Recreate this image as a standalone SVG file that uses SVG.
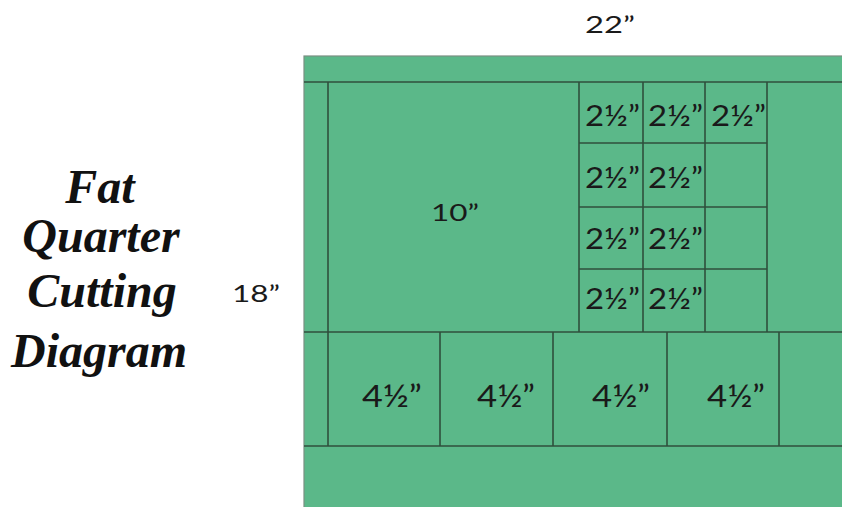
<svg xmlns="http://www.w3.org/2000/svg" width="842" height="507" viewBox="0 0 842 507">
<style>
.cut{stroke:#2f4f3c;stroke-width:1.6;fill:none}
.lbl{font-family:Lato,"Open Sans",sans-serif;fill:#1a1a1a}
.sm{font-size:28px}
.md{font-size:30px}
.dim{font-size:23px}
.title{font-family:"Liberation Serif",serif;font-style:italic;font-weight:bold;font-size:48px;fill:#111;text-anchor:middle}
</style>
<rect width="842" height="507" fill="#ffffff"/>
<g id="title">
<text class="title" x="100" y="203">Fat</text>
<text class="title" x="101" y="252">Quarter</text>
<text class="title" x="102" y="307">Cutting</text>
<text class="title" x="99" y="367">Diagram</text>
</g>
<g id="dim-22"><text class="lbl dim" x="585" y="33" textLength="50" lengthAdjust="spacingAndGlyphs">22”</text></g>
<g id="dim-18"><text class="lbl dim" x="232" y="302" textLength="48" lengthAdjust="spacingAndGlyphs">18”</text></g>
<g id="fabric"><rect x="304" y="56" width="560" height="470" fill="#5bb889" stroke="#7a8f82" stroke-width="1.2"/></g>
<g id="cuts">
<line class="cut" x1="304" y1="82" x2="842" y2="82"/>
<line class="cut" x1="304" y1="332" x2="842" y2="332"/>
<line class="cut" x1="304" y1="446" x2="842" y2="446"/>
<line class="cut" x1="328" y1="82" x2="328" y2="446"/>
<line class="cut" x1="579" y1="82" x2="579" y2="332"/>
<line class="cut" x1="643" y1="82" x2="643" y2="332"/>
<line class="cut" x1="705" y1="82" x2="705" y2="332"/>
<line class="cut" x1="767" y1="82" x2="767" y2="332"/>
<line class="cut" x1="579" y1="143" x2="767" y2="143"/>
<line class="cut" x1="579" y1="207" x2="767" y2="207"/>
<line class="cut" x1="579" y1="269" x2="767" y2="269"/>
<line class="cut" x1="440" y1="332" x2="440" y2="446"/>
<line class="cut" x1="553" y1="332" x2="553" y2="446"/>
<line class="cut" x1="667" y1="332" x2="667" y2="446"/>
<line class="cut" x1="779" y1="332" x2="779" y2="446"/>
</g>
<g id="square-10"><text class="lbl dim" x="431" y="221" textLength="48" lengthAdjust="spacingAndGlyphs">10”</text></g>
<g id="squares-2half">
<text class="lbl sm" x="585" y="126" textLength="55" lengthAdjust="spacingAndGlyphs">2½”</text>
<text class="lbl sm" x="648" y="126" textLength="55" lengthAdjust="spacingAndGlyphs">2½”</text>
<text class="lbl sm" x="711" y="126" textLength="55" lengthAdjust="spacingAndGlyphs">2½”</text>
<text class="lbl sm" x="585" y="188" textLength="55" lengthAdjust="spacingAndGlyphs">2½”</text>
<text class="lbl sm" x="648" y="188" textLength="55" lengthAdjust="spacingAndGlyphs">2½”</text>
<text class="lbl sm" x="585" y="249" textLength="55" lengthAdjust="spacingAndGlyphs">2½”</text>
<text class="lbl sm" x="648" y="249" textLength="55" lengthAdjust="spacingAndGlyphs">2½”</text>
<text class="lbl sm" x="585" y="309" textLength="55" lengthAdjust="spacingAndGlyphs">2½”</text>
<text class="lbl sm" x="648" y="309" textLength="55" lengthAdjust="spacingAndGlyphs">2½”</text>
</g>
<g id="squares-4half">
<text class="lbl md" x="362" y="407" textLength="60" lengthAdjust="spacingAndGlyphs">4½”</text>
<text class="lbl md" x="477" y="407" textLength="58" lengthAdjust="spacingAndGlyphs">4½”</text>
<text class="lbl md" x="592" y="407" textLength="58" lengthAdjust="spacingAndGlyphs">4½”</text>
<text class="lbl md" x="707" y="407" textLength="58" lengthAdjust="spacingAndGlyphs">4½”</text>
</g>
</svg>
